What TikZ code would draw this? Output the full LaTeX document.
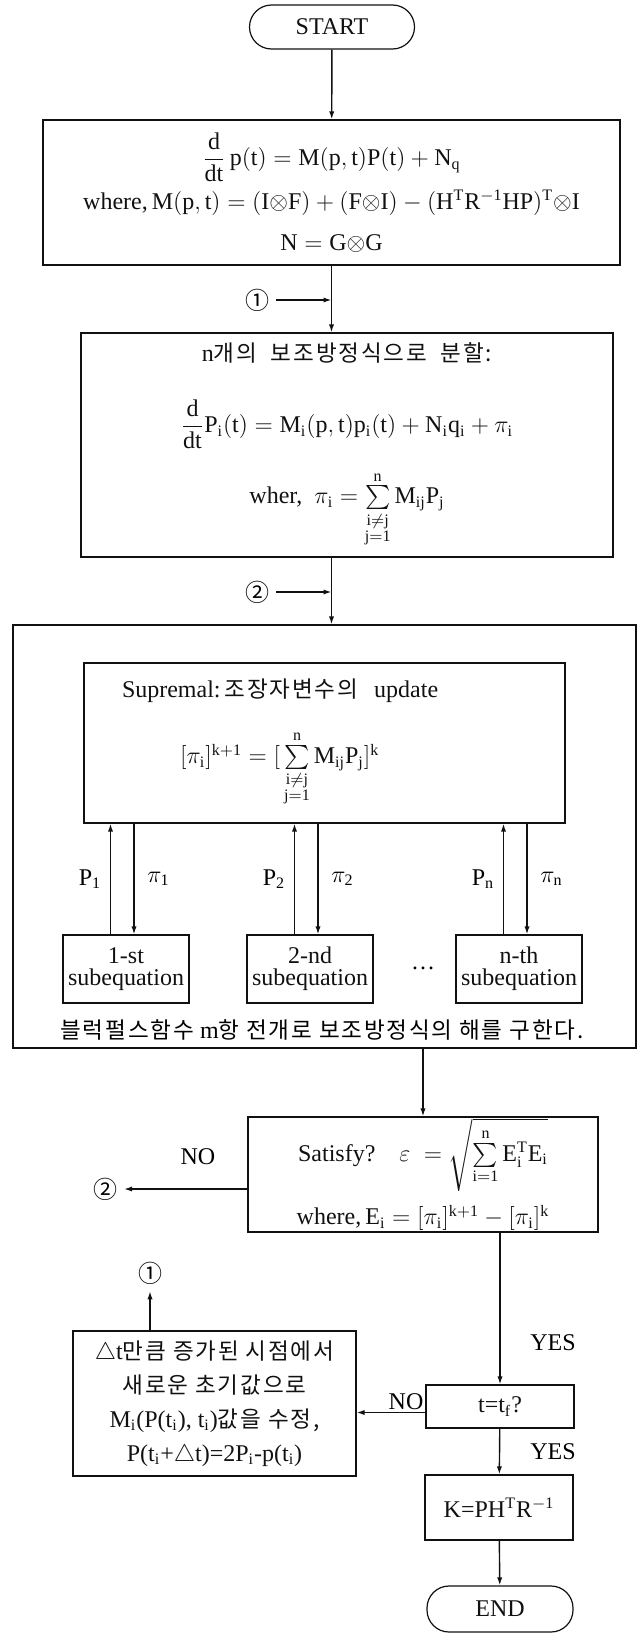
\documentclass[tikz,border=0pt]{standalone}
\usepackage{amsmath}
\usepackage{fontspec}
\setmainfont{Liberation Serif}
\newfontfamily\kr{Noto Sans CJK KR}[Scale=0.94,LetterSpace=8]
\newfontfamily\sym{Noto Sans CJK KR}
\usetikzlibrary{arrows.meta,calc}
\definecolor{ink}{HTML}{111111}
\newcommand{\ox}{{\otimes}}
\newcommand{\sumij}{\sum\limits_{\substack{\mathrm{i}\neq\mathrm{j}\\ \mathrm{j=1}}}^{\mathrm{n}}}
\newcommand{\subcol}[4]{%
  \node[box,minimum width=63pt,minimum height=34pt,
        font=\fontsize{12}{11}\selectfont] (#1) at (#2,969) {#3\\subequation};
  \draw[flow] ([xshift=-7.75pt]#1.north) -- ([xshift=-7.75pt]#1.north |- sup.south)
        node[pos=0.5,left=1pt] {P\textsubscript{#4}};
  \draw[flow] ([xshift=4pt]#1.north |- sup.south) -- ([xshift=4pt]#1.north)
        node[pos=0.5,right=3pt] {$\pi_{\mathrm{#4}}$};}

\begin{document}
\begin{tikzpicture}[x=0.5pt,y=-0.5pt,font=\fontsize{12}{14.5}\selectfont,
  box/.style={draw=ink,line width=0.6pt,align=center,inner sep=0pt,text=ink},
  term/.style={box,rounded corners=11pt},
  flow/.style={draw=ink,line width=0.7pt,-{Latex[length=4pt,width=2.6pt]}}]
  \useasboundingbox (0,0) rectangle (642,1638);

  \node[term,minimum width=82.5pt,minimum height=22pt] (start) at (332,27) {START};

  \node[box,minimum width=288.5pt,minimum height=72.5pt] (model) at (331.5,192.5)
    {$\dfrac{\mathrm{d}}{\mathrm{dt}}\,\mathrm{p(t)=M(p,t)P(t)+N_q}$\\[3pt]
     where,$\,\mathrm{M(p,t)=(I\ox F)+(F\ox I)-(H^TR^{-1}HP)^T\ox I}$\\[6pt]
     $\mathrm{N=G\ox G}$};

  \node[box,minimum width=266pt,minimum height=112pt] (split) at (347,445)
    {n{\kr 개의\ \ 보조방정식으로\ \ 분할:}\\[17pt]
     $\dfrac{\mathrm{d}}{\mathrm{dt}}\mathrm{P_i(t)=M_i(p,t)p_i(t)+N_iq_i}+\pi_\mathrm{i}$\\[10pt]
     wher,\ \ $\pi_\mathrm{i}=\sumij\mathrm{M_{ij}P_j}$};

  \node[box,minimum width=311.5pt,minimum height=211.5pt] (outer) at (324.5,836.5) {};
  \node[box,minimum width=240.5pt,minimum height=80pt,text width=202.5pt,align=left]
    (sup) at (324.5,743)
    {Supremal:\,{\kr 조장자변수의}\ \ update\\[13pt]
     \hspace*{29pt}$\mathrm{[}\pi_\mathrm{i}\mathrm{]^{k+1}=[}\sumij\mathrm{M_{ij}P_j]^k}$};

  \foreach \nm/\xc/\hd/\k in {s1/126/1-st/1, s2/310/2-nd/2, sn/519/n-th/n}{
    \subcol{\nm}{\xc}{\hd}{\k}}
  \node (dots) at (423,968) {\dots};
  \node (note) at (322,1030) {{\kr 블럭펄스함수} m{\kr 항 전개로 보조방정식의 해를 구한다.}};

  \node[box,minimum width=175pt,minimum height=57.5pt] (check) at (423,1174.5)
    {Satisfy?\quad$\varepsilon\;=\sqrt{\sum\limits_{\mathrm{i=1}}^{\mathrm{n}}\mathrm{E_i^TE_i}}$\\[6pt]
     where,$\,\mathrm{E_i=[}\pi_\mathrm{i}\mathrm{]^{k+1}-[}\pi_\mathrm{i}\mathrm{]^k}$};

  \node[box,minimum width=141.5pt,minimum height=72.5pt,font=\fontsize{12}{17}\selectfont]
    (renew) at (214.5,1403.5)
    {$\triangle$t{\kr 만큼 증가된 시점에서}\\
     {\kr 새로운 초기값으로}\\
     M\textsubscript{i}(P(t\textsubscript{i}), t\textsubscript{i}){\kr 값을 수정,}\\
     P(t\textsubscript{i}+$\triangle$t)=2P\textsubscript{i}-p(t\textsubscript{i})};

  \node[box,minimum width=74pt,minimum height=21.5pt] (tf) at (500,1406.5) {t=t\textsubscript{f}?};
  \node[box,minimum width=74pt,minimum height=32.5pt] (gain) at (499,1507.5)
    {K=PH\textsuperscript{T}R\textsuperscript{$-$1}};
  \node[term,minimum width=73pt,minimum height=23pt] (end) at (500,1609) {END};

  \node (c1a) at (257,300) {\sym ①};
  \node (c2a) at (257,592) {\sym ②};
  \node (c2b) at (105,1189) {\sym ②};
  \node (c1b) at (150,1273) {\sym ①};
  \node (no1) at (198,1157) {NO};
  \node (no2) at (406,1402) {NO};
  \node (yes1) at (553,1343) {YES};
  \node (yes2) at (553,1452) {YES};

  \draw[flow] (start) -- (model);
  \draw[flow] (model.south) -- (model.south |- split.north);
  \draw[flow] (model.south |- split.south) -- (model.south |- outer.north);
  \draw[flow] (c1a.east) -- (c1a -| model.south);
  \draw[flow] (c2a.east) -- (c2a -| model.south);
  \draw[flow] (check.north |- outer.south) -- (check.north);
  \draw[flow] (c2b -| check.west) -- (c2b.east);
  \draw[flow] (tf.north |- check.south) -- (tf.north);
  \draw[flow] ([yshift=-3pt]tf.west) -- ([yshift=-3pt]tf.west -| renew.east);
  \draw[flow] (c1b |- renew.north) -- (c1b.south);
  \draw[flow] (tf) -- (gain);
  \draw[flow] (gain) -- (end);
\end{tikzpicture}
\end{document}
